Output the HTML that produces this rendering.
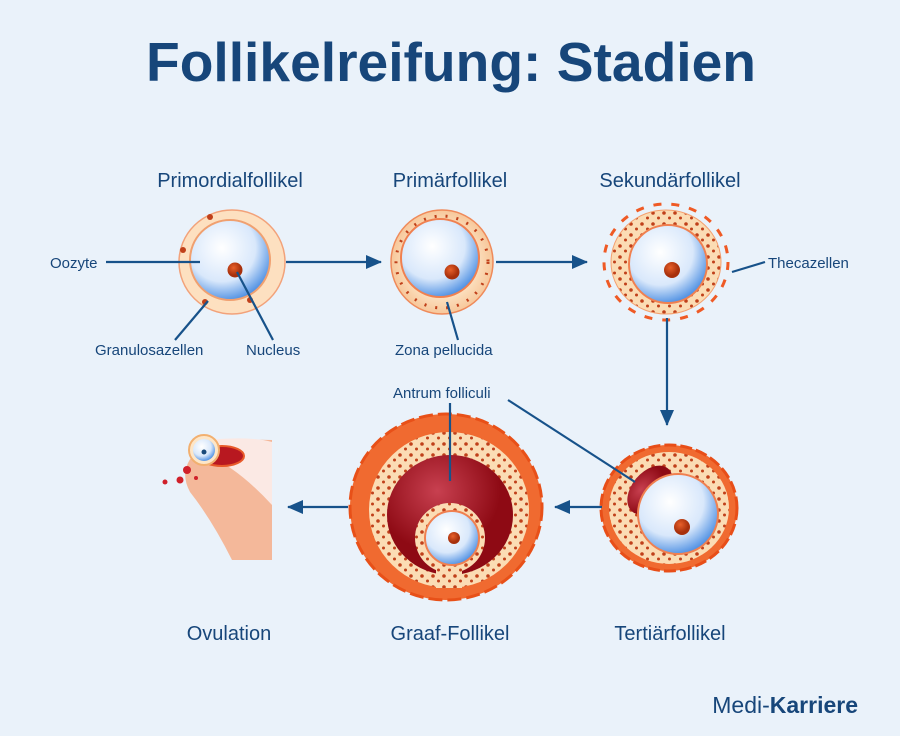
<!DOCTYPE html>
<html><head><meta charset="utf-8"><style>
html,body{margin:0;padding:0;background:#eaf2fa;}
svg{display:block;font-family:"Liberation Sans",sans-serif;}
</style></head><body>
<svg width="900" height="736" viewBox="0 0 900 736">
<defs>
<radialGradient id="oo" cx="40%" cy="35%" r="70%"><stop offset="0" stop-color="#ffffff"/><stop offset="0.6" stop-color="#d9e8fb"/><stop offset="1" stop-color="#3f86e0"/></radialGradient>
<radialGradient id="nu" cx="40%" cy="35%"><stop offset="0" stop-color="#e8602a"/><stop offset="1" stop-color="#a7300c"/></radialGradient>
<radialGradient id="gr" cx="50%" cy="50%"><stop offset="0.6" stop-color="#fde6c8"/><stop offset="1" stop-color="#f7c79a"/></radialGradient>
<radialGradient id="an" cx="40%" cy="30%"><stop offset="0" stop-color="#c84050"/><stop offset="1" stop-color="#8e0a14"/></radialGradient>
<pattern id="dots" width="11" height="11" patternUnits="userSpaceOnUse"><rect width="11" height="11" fill="#fbdcb4"/><circle cx="4" cy="4" r="1.8" fill="#c0401a"/><circle cx="9.5" cy="9" r="1.5" fill="#c0401a"/></pattern>
<marker id="ar2" markerWidth="16" markerHeight="14" refX="15" refY="7" orient="auto" markerUnits="userSpaceOnUse"><path d="M0,0 L16,7 L0,14 Z" fill="#17528a"/></marker>
</defs>
<text x="451" y="81" text-anchor="middle" font-size="55" font-weight="bold" fill="#17467a" textLength="610" lengthAdjust="spacingAndGlyphs">Follikelreifung: Stadien</text>
<g font-size="20" fill="#17467a" text-anchor="middle">
<text x="230" y="187">Primordialfollikel</text>
<text x="450" y="187">Primärfollikel</text>
<text x="670" y="187">Sekundärfollikel</text>
<text x="229" y="640">Ovulation</text>
<text x="450" y="640">Graaf-Follikel</text>
<text x="670" y="640">Tertiärfollikel</text>
</g>
<g font-size="15" fill="#17467a">
<text x="50" y="268">Oozyte</text>
<text x="95" y="355">Granulosazellen</text>
<text x="246" y="355">Nucleus</text>
<text x="395" y="355">Zona pellucida</text>
<text x="768" y="268">Thecazellen</text>
<text x="393" y="398">Antrum folliculi</text>
</g>
<ellipse cx="232" cy="262" rx="53" ry="52" fill="#fde0c0" stroke="#f2a27a" stroke-width="1.5"/>
<g fill="#c0401a"><circle cx="210" cy="217" r="3"/><circle cx="252" cy="230" r="3"/><circle cx="183" cy="250" r="3"/><circle cx="205" cy="302" r="3"/><circle cx="250" cy="300" r="3"/></g>
<circle cx="230" cy="260" r="40" fill="url(#oo)" stroke="#f0a070" stroke-width="2"/>
<circle cx="235" cy="270" r="7.5" fill="url(#nu)"/>
<ellipse cx="442" cy="262" rx="51" ry="52" fill="url(#gr)" stroke="#ef8a5a" stroke-width="1.5"/>
<circle cx="442" cy="262" r="46" fill="none" stroke="#c0401a" stroke-width="3" stroke-dasharray="2 9"/>
<circle cx="440" cy="258" r="39" fill="url(#oo)" stroke="#f08050" stroke-width="2"/>
<circle cx="452" cy="272" r="7.5" fill="url(#nu)"/>
<ellipse cx="666" cy="262" rx="62" ry="58" fill="none" stroke="#ef5a25" stroke-width="3" stroke-dasharray="8 10"/>
<ellipse cx="666" cy="262" rx="55" ry="52" fill="url(#dots)" stroke="#f4a070"/>
<circle cx="668" cy="264" r="39" fill="url(#oo)" stroke="#f08050" stroke-width="2"/>
<circle cx="672" cy="270" r="8" fill="url(#nu)"/>
<ellipse cx="669" cy="508" rx="68" ry="63" fill="#f06a30" stroke="#e84e18" stroke-width="3" stroke-dasharray="12 4"/>
<ellipse cx="669" cy="508" rx="60" ry="56" fill="url(#dots)"/>
<ellipse cx="650" cy="490" rx="28" ry="18" transform="rotate(-50 650 490)" fill="url(#an)"/>
<circle cx="678" cy="514" r="40" fill="url(#oo)" stroke="#f08050" stroke-width="2"/>
<circle cx="682" cy="527" r="8" fill="url(#nu)"/>
<ellipse cx="446" cy="507" rx="96" ry="93" fill="#f06a30" stroke="#e85018" stroke-width="3" stroke-dasharray="14 5"/>
<ellipse cx="449" cy="510" rx="80" ry="78" fill="url(#dots)"/>
<ellipse cx="450" cy="515" rx="63" ry="60" fill="url(#an)"/>
<circle cx="450" cy="538" r="35" fill="url(#dots)"/>
<rect x="436" y="560" width="26" height="28" fill="url(#dots)"/>
<circle cx="452" cy="538" r="27" fill="url(#oo)" stroke="#f08050" stroke-width="2"/>
<circle cx="454" cy="538" r="6" fill="url(#nu)"/>
<path d="M272,440 L272,560 L232,560 Q212,520 190,492 Q178,470 196,452 Q230,438 272,440 Z" fill="#f4b89a"/>
<path d="M208,440 Q250,436 272,442 L272,505 Q240,470 208,455 Z" fill="#fbe9e4"/>
<ellipse cx="222" cy="456" rx="22" ry="10" fill="#b81820" stroke="#e85a2a" stroke-width="2"/>
<circle cx="204" cy="450" r="15" fill="#fde6c8" stroke="#f2b070" stroke-width="2"/>
<circle cx="204" cy="450" r="11" fill="url(#oo)"/>
<circle cx="204" cy="452" r="2.5" fill="#1a4a7a"/>
<g fill="#d0202a"><circle cx="187" cy="470" r="4"/><circle cx="180" cy="480" r="3.5"/><circle cx="165" cy="482" r="2.5"/><circle cx="196" cy="478" r="2"/></g>
<g stroke="#17528a" stroke-width="2.2" fill="none">
<line x1="286" y1="262" x2="381" y2="262" marker-end="url(#ar2)"/>
<line x1="496" y1="262" x2="587" y2="262" marker-end="url(#ar2)"/>
<line x1="667" y1="318" x2="667" y2="425" marker-end="url(#ar2)"/>
<line x1="602" y1="507" x2="555" y2="507" marker-end="url(#ar2)"/>
<line x1="348" y1="507" x2="288" y2="507" marker-end="url(#ar2)"/>
<line x1="106" y1="262" x2="200" y2="262"/>
<line x1="175" y1="340" x2="208" y2="301"/>
<line x1="273" y1="340" x2="237" y2="272"/>
<line x1="458" y1="340" x2="447" y2="302"/>
<line x1="765" y1="262" x2="732" y2="272"/>
<line x1="450" y1="403" x2="450" y2="481"/>
<line x1="508" y1="400" x2="635" y2="482"/>
</g>
<text x="858" y="713" text-anchor="end" font-size="23" fill="#17467a">Medi-<tspan font-weight="bold">Karriere</tspan></text>
</svg>
</body></html>
